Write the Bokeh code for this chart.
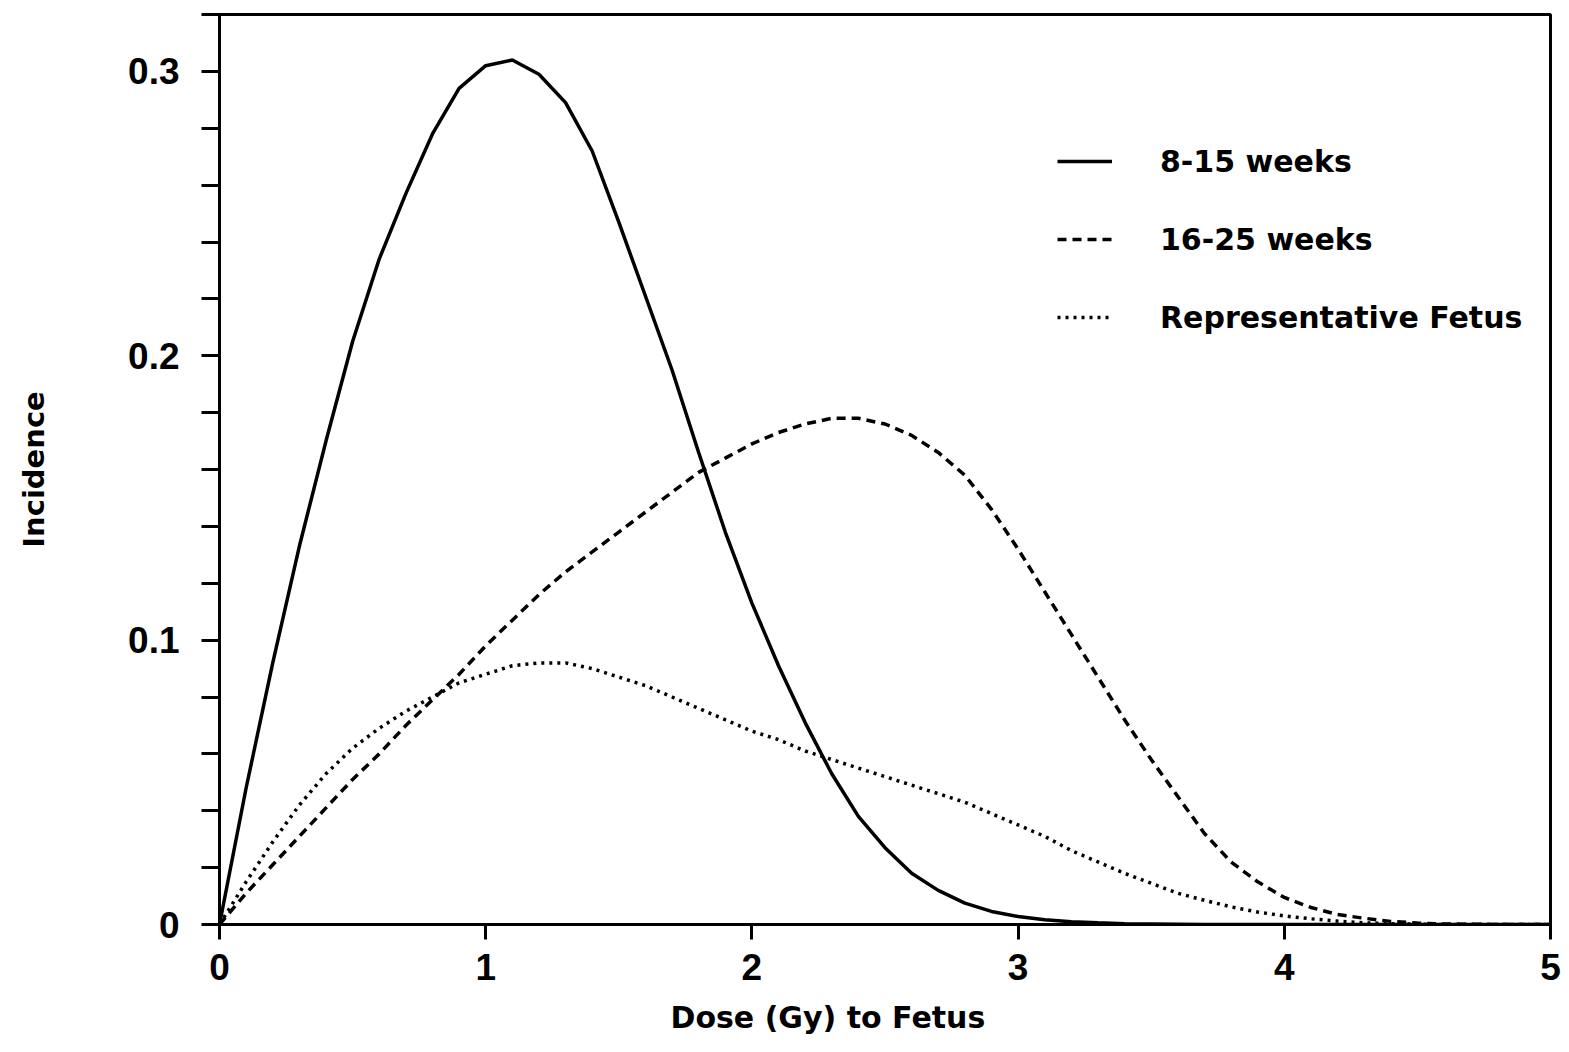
from bokeh.plotting import figure
from bokeh.models import FixedTicker, Legend, LegendItem, Range1d, Title
from bokeh.embed import file_html
from bokeh.resources import INLINE

# ---- data ----
dose = [0.0, 0.1, 0.2, 0.3, 0.4, 0.5, 0.6, 0.7, 0.8, 0.9,
        1.0, 1.1, 1.2, 1.3, 1.4, 1.5, 1.6, 1.7, 1.8, 1.9,
        2.0, 2.1, 2.2, 2.3, 2.4, 2.5, 2.6, 2.7, 2.8, 2.9,
        3.0, 3.1, 3.2, 3.3, 3.4, 3.5, 3.6, 3.7, 3.8, 3.9,
        4.0, 4.1, 4.2, 4.3, 4.4, 4.5, 4.6, 4.7, 4.8, 4.9, 5.0]

weeks_8_15 = [0.0, 0.048, 0.092, 0.133, 0.170, 0.205, 0.234, 0.257, 0.278, 0.294,
              0.302, 0.304, 0.299, 0.289, 0.272, 0.247, 0.221, 0.195, 0.166, 0.138,
              0.113, 0.091, 0.071, 0.053, 0.038, 0.027, 0.018, 0.012, 0.0075, 0.0046,
              0.0028, 0.0017, 0.0010, 0.0006, 0.0003, 0.0002, 0.0001, 0.0, 0.0, 0.0,
              0.0, 0.0, 0.0, 0.0, 0.0, 0.0, 0.0, 0.0, 0.0, 0.0, 0.0]

weeks_16_25 = [0.0, 0.011, 0.021, 0.031, 0.041, 0.051, 0.060, 0.070, 0.079, 0.088,
               0.098, 0.107, 0.116, 0.124, 0.131, 0.138, 0.145, 0.152, 0.159, 0.164,
               0.169, 0.173, 0.176, 0.178, 0.178, 0.176, 0.172, 0.166, 0.158, 0.146,
               0.132, 0.117, 0.102, 0.087, 0.072, 0.058, 0.045, 0.032, 0.022, 0.015,
               0.0095, 0.006, 0.0035, 0.0022, 0.0011, 0.0005, 0.0002, 0.0001, 0.0, 0.0, 0.0]

representative = [0.0, 0.015, 0.029, 0.042, 0.053, 0.062, 0.069, 0.075, 0.080, 0.085,
                  0.088, 0.091, 0.092, 0.092, 0.090, 0.087, 0.084, 0.080, 0.076, 0.072,
                  0.068, 0.065, 0.061, 0.058, 0.055, 0.052, 0.049, 0.046, 0.043, 0.039,
                  0.035, 0.031, 0.026, 0.022, 0.018, 0.0145, 0.011, 0.0085, 0.0062, 0.0044,
                  0.003, 0.002, 0.0012, 0.0006, 0.0003, 0.0001, 0.0, 0.0, 0.0, 0.0, 0.0]

series_labels = ["8-15 weeks", "16-25 weeks", "Representative Fetus"]
x_ticks = [0, 1, 2, 3, 4, 5]
y_ticks = [0, 0.1, 0.2, 0.3]
y_minor = [0.02, 0.04, 0.06, 0.08, 0.12, 0.14, 0.16, 0.18,
           0.22, 0.24, 0.26, 0.28, 0.32]
x_title = "Dose (Gy) to Fetus"
y_title = "Incidence"

# ---- figure ----
p = figure(width=1569, height=1052, output_backend="svg", toolbar_location=None,
           x_range=Range1d(0, 5), y_range=Range1d(0, 0.32),
           min_border_left=219, min_border_right=19,
           min_border_top=14, min_border_bottom=128)
p.grid.visible = False
p.outline_line_color = "black"
p.outline_line_width = 3
p.background_fill_color = "white"
p.border_fill_color = "white"

tick_font = "Liberation Sans"

p.xaxis.ticker = FixedTicker(ticks=x_ticks)
p.xaxis.major_label_overrides = {t: str(t) for t in x_ticks}
p.yaxis.ticker = FixedTicker(ticks=y_ticks, minor_ticks=y_minor)
p.yaxis.major_label_overrides = {0: "0", 0.1: "0.1", 0.2: "0.2", 0.3: "0.3"}

for ax in (p.xaxis[0], p.yaxis[0]):
    ax.axis_line_width = 3
    ax.axis_line_color = "black"
    ax.major_tick_line_width = 3
    ax.minor_tick_line_width = 3
    ax.major_tick_in = 0
    ax.minor_tick_in = 0
    ax.major_label_text_font = tick_font
    ax.major_label_text_font_style = "bold"
    ax.major_label_text_font_size = "37px"
    ax.major_label_text_color = "black"

p.xaxis.major_tick_out = 15
p.xaxis.minor_tick_out = 0
p.xaxis.major_label_standoff = 14
p.yaxis.major_tick_out = 18
p.yaxis.minor_tick_out = 18
p.yaxis.major_label_standoff = 22

p.yaxis.axis_label = y_title
p.yaxis.axis_label_text_font = "DejaVu Sans"
p.yaxis.axis_label_text_font_style = "bold"
p.yaxis.axis_label_text_font_size = "29px"
p.yaxis.axis_label_text_color = "black"
p.yaxis.axis_label_standoff = 74

# ---- curves ----
r1 = p.line(dose, weeks_8_15, line_color="black", line_width=3.5)
r2 = p.line(dose, weeks_16_25, line_color="black", line_width=3.5, line_dash="9 6")
r3 = p.line(dose, representative, line_color="black", line_width=3.5, line_dash="3 5")

legend = Legend(items=[LegendItem(label=series_labels[0], renderers=[r1]),
                       LegendItem(label=series_labels[1], renderers=[r2]),
                       LegendItem(label=series_labels[2], renderers=[r3])],
                location=(828, 577), orientation="vertical",
                glyph_width=55, glyph_height=40, label_height=40,
                label_standoff=48, spacing=38, padding=10, margin=0,
                border_line_alpha=0, background_fill_alpha=0,
                label_text_font="DejaVu Sans", label_text_font_style="bold",
                label_text_font_size="30px", label_text_color="black")
p.add_layout(legend, "center")

p.add_layout(Title(text=x_title, align="left", offset=451, standoff=31,
                   text_font="DejaVu Sans", text_font_style="bold",
                   text_font_size="30px", text_color="black"), "below")

open("out.html", "w").write(file_html(p, INLINE))
